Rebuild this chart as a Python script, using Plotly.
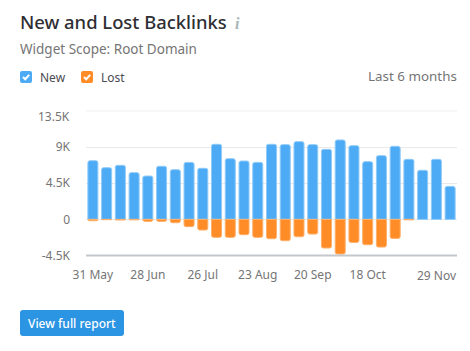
import plotly.graph_objects as go

W, H = 470, 351
weeks = ["31 May","7 Jun","14 Jun","21 Jun","28 Jun","5 Jul","12 Jul","19 Jul","26 Jul","2 Aug","9 Aug","16 Aug",
         "23 Aug","30 Aug","6 Sep","13 Sep","20 Sep","27 Sep","4 Oct","11 Oct","18 Oct","25 Oct","1 Nov","8 Nov",
         "15 Nov","22 Nov","29 Nov"]
new_links = [7310,6440,6730,5820,5400,6610,6190,7100,6360,9350,7560,7270,7100,9350,9310,9680,9310,8720,9890,9180,
             7190,7940,9100,7480,6110,7480,4110]
lost_links = [-170,-40,-80,-60,-250,-250,-420,-910,-1330,-2240,-2240,-1910,-2240,-2410,-2660,-2160,-1830,-3570,
              -4320,-2870,-3160,-3450,-2370,-60,None,None,None]
x_tick_labels = ["31 May","28 Jun","26 Jul","23 Aug","20 Sep","18 Oct"]
y_tick_vals = [-4500,0,4500,9000]
y_tick_labels = ["-4.5K","0","4.5K","9K"]
FONT = "Noto Sans"

def px(x): return x / W
def py(y): return 1 - y / H

fig = go.Figure()
fig.add_bar(x=weeks, y=new_links, name="New", marker=dict(color="#4dabf5", line=dict(color="#8fcbf9", width=1), cornerradius=2))
fig.add_bar(x=weeks, y=lost_links, name="Lost", marker=dict(color="#ff8c26", line=dict(color="#ffb06a", width=1), cornerradius=2))

def text(x, y, s, size, color, anchor="left", **kw):
    fig.add_annotation(xref="paper", yref="paper", x=px(x), y=py(y), text=s, showarrow=False, xanchor=anchor,
                       yanchor="middle", font=dict(family=kw.pop("family", FONT), size=size, color=color, **kw),
                       xshift=0, yshift=0, borderpad=0, borderwidth=0)

text(20, 22, "New and Lost Backlinks", 18.4, "#2e2e33", weight=500)
text(235, 23, "<b><i>i</i></b>", 16, "#aab6b7", family="Liberation Serif")
text(20, 49, "Widget Scope: Root Domain", 13.5, "#757575")
text(40, 77, "New", 12, "#4a4a52")
text(101, 77, "Lost", 12, "#4a4a52")
text(457, 76, "Last 6 months", 13.4, "#757575", anchor="right")
text(70, 117, "13.5K", 12, "#757575", anchor="right")
text(457, 275, "29 Nov", 12, "#757575", anchor="right")
text(72, 323, "View full report", 12, "#ffffff", anchor="center", weight=500)

def rrect(x0, y0, x1, y1, r, color):
    d = (f"M{px(x0+r)},{py(y0)} L{px(x1-r)},{py(y0)} Q{px(x1)},{py(y0)} {px(x1)},{py(y0+r)} "
         f"L{px(x1)},{py(y1-r)} Q{px(x1)},{py(y1)} {px(x1-r)},{py(y1)} L{px(x0+r)},{py(y1)} "
         f"Q{px(x0)},{py(y1)} {px(x0)},{py(y1-r)} L{px(x0)},{py(y0+r)} Q{px(x0)},{py(y0)} {px(x0+r)},{py(y0)} Z")
    fig.add_shape(type="path", xref="paper", yref="paper", path=d, fillcolor=color, line_width=0, layer="above")

def check(x0, y0):
    d = f"M{px(x0+3)},{py(y0+6)} L{px(x0+5.2)},{py(y0+8.2)} L{px(x0+9.2)},{py(y0+3.8)}"
    fig.add_shape(type="path", xref="paper", yref="paper", path=d, line=dict(color="white", width=2), layer="above")

rrect(20, 71, 32, 83, 2, "#4dabf5"); check(20, 71)
rrect(81, 71, 93, 83, 2, "#ff8c26"); check(81, 71)
rrect(20, 310, 124, 336, 3, "#2b94e3")

fig.update_layout(
    width=W, height=H, margin=dict(l=0, r=0, t=0, b=0), paper_bgcolor="white", plot_bgcolor="white",
    barmode="relative", bargap=0.27, showlegend=False, hovermode=False,
    font=dict(family=FONT, size=12, color="#757575"),
    xaxis=dict(domain=[px(86), px(457)], type="category", range=[-0.5, 26.5], tickmode="array",
               tickvals=x_tick_labels, ticktext=x_tick_labels, ticklen=0, showgrid=False, zeroline=False,
               showline=False, ticklabelstandoff=10, anchor="y", automargin=False, tickangle=0),
    yaxis=dict(domain=[py(255.5), py(111)], range=[-4500, 13500], tickmode="array", tickvals=y_tick_vals,
               ticktext=y_tick_labels, ticklen=0, showgrid=True, gridcolor="#e9e9e9", gridwidth=1,
               zeroline=False, showline=False, ticklabelstandoff=15, automargin=False, anchor="x"),
)
fig.add_shape(type="line", xref="paper", yref="paper", x0=px(86), x1=px(457), y0=py(111), y1=py(111),
              line=dict(color="#efefef", width=1), layer="below")
fig.add_shape(type="line", xref="paper", yref="paper", x0=px(86), x1=px(457), y0=py(255.5), y1=py(255.5),
              line=dict(color="#c4c8cc", width=2), layer="above")
fig.write_html("out.html", config={"displayModeBar": False},
               post_script="document.body.style.margin='0';document.body.style.overflow='hidden';")
